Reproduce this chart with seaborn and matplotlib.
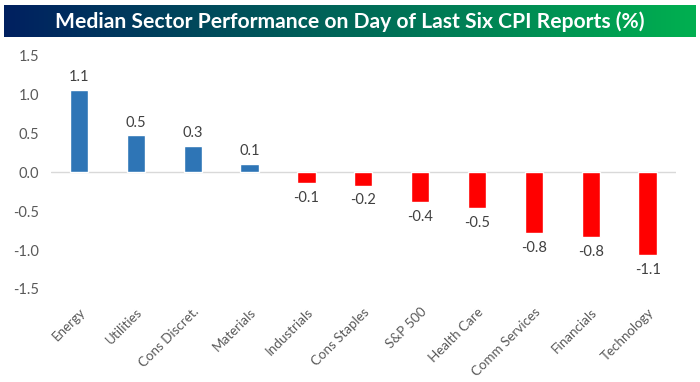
import numpy as np
import pandas as pd
import matplotlib
matplotlib.use("Agg")
import matplotlib.pyplot as plt
import seaborn as sns
from matplotlib.colors import LinearSegmentedColormap

sectors = ["Energy", "Utilities", "Cons Discret.", "Materials", "Industrials",
           "Cons Staples", "S&P 500", "Health Care", "Comm Services",
           "Financials", "Technology"]
values = [1.06, 0.48, 0.34, 0.11, -0.14, -0.17, -0.38, -0.46, -0.78, -0.83, -1.06]
yticks = [-1.5, -1.0, -0.5, 0.0, 0.5, 1.0, 1.5]
title = "Median Sector Performance on Day of Last Six CPI Reports (%)"

df = pd.DataFrame({"sector": sectors, "value": values})
palette = ["#2E75B6" if v >= 0 else "#FF0000" for v in values]

sns.set_theme(style="white")
plt.rcParams["font.family"] = ["Lato", "DejaVu Sans"]

W, H = 700, 382
fig = plt.figure(figsize=(W / 100, H / 100), dpi=100)

# title bar with gradient
tb = fig.add_axes([4 / W, 1 - 37 / H, 692 / W, 32 / H])
cmap = LinearSegmentedColormap.from_list("g", ["#002060", "#00B050"])
tb.imshow(np.linspace(0, 1, 256).reshape(1, -1), aspect="auto", cmap=cmap,
          extent=[0, 1, 0, 1])
tb.set_axis_off()
tb.text(0.5, 0.47, title, color="white", fontsize=15.2, fontweight="bold",
        ha="center", va="center", transform=tb.transAxes)

# main axes
x0, x1 = 50.6, 676
y_top, y_bot = 55.7, 289
ax = fig.add_axes([x0 / W, 1 - y_bot / H, (x1 - x0) / W, (y_bot - y_top) / H])
sns.barplot(data=df, x="sector", y="value", hue="sector", palette=palette,
            legend=False, width=0.32, ax=ax, saturation=1)
ax.set_xlim(-0.5, len(sectors) - 0.5)
ax.set_ylim(-1.5, 1.5)
ax.set_yticks(yticks)
ax.set_yticklabels([f"{t:.1f}" for t in yticks])
ax.tick_params(axis="y", length=0, pad=8, labelsize=10.5, labelcolor="#595959")
ax.tick_params(axis="x", length=0, pad=12, labelsize=9.6, labelcolor="#595959")
plt.setp(ax.get_xticklabels(), rotation=45, ha="right", rotation_mode="anchor")
for s in ax.spines.values():
    s.set_visible(False)
ax.axhline(0, color="#D9D9D9", lw=1, zorder=0)
ax.set_xlabel("")
ax.set_ylabel("")
ax.set_facecolor("none")

for i, v in enumerate(values):
    off = 0.07 if v >= 0 else -0.1
    ax.text(i, v + off, f"{v:.1f}", ha="center", va="bottom" if v >= 0 else "top",
            fontsize=10.5, color="#404040")

fig.savefig("out.png", dpi=100, facecolor="white")
